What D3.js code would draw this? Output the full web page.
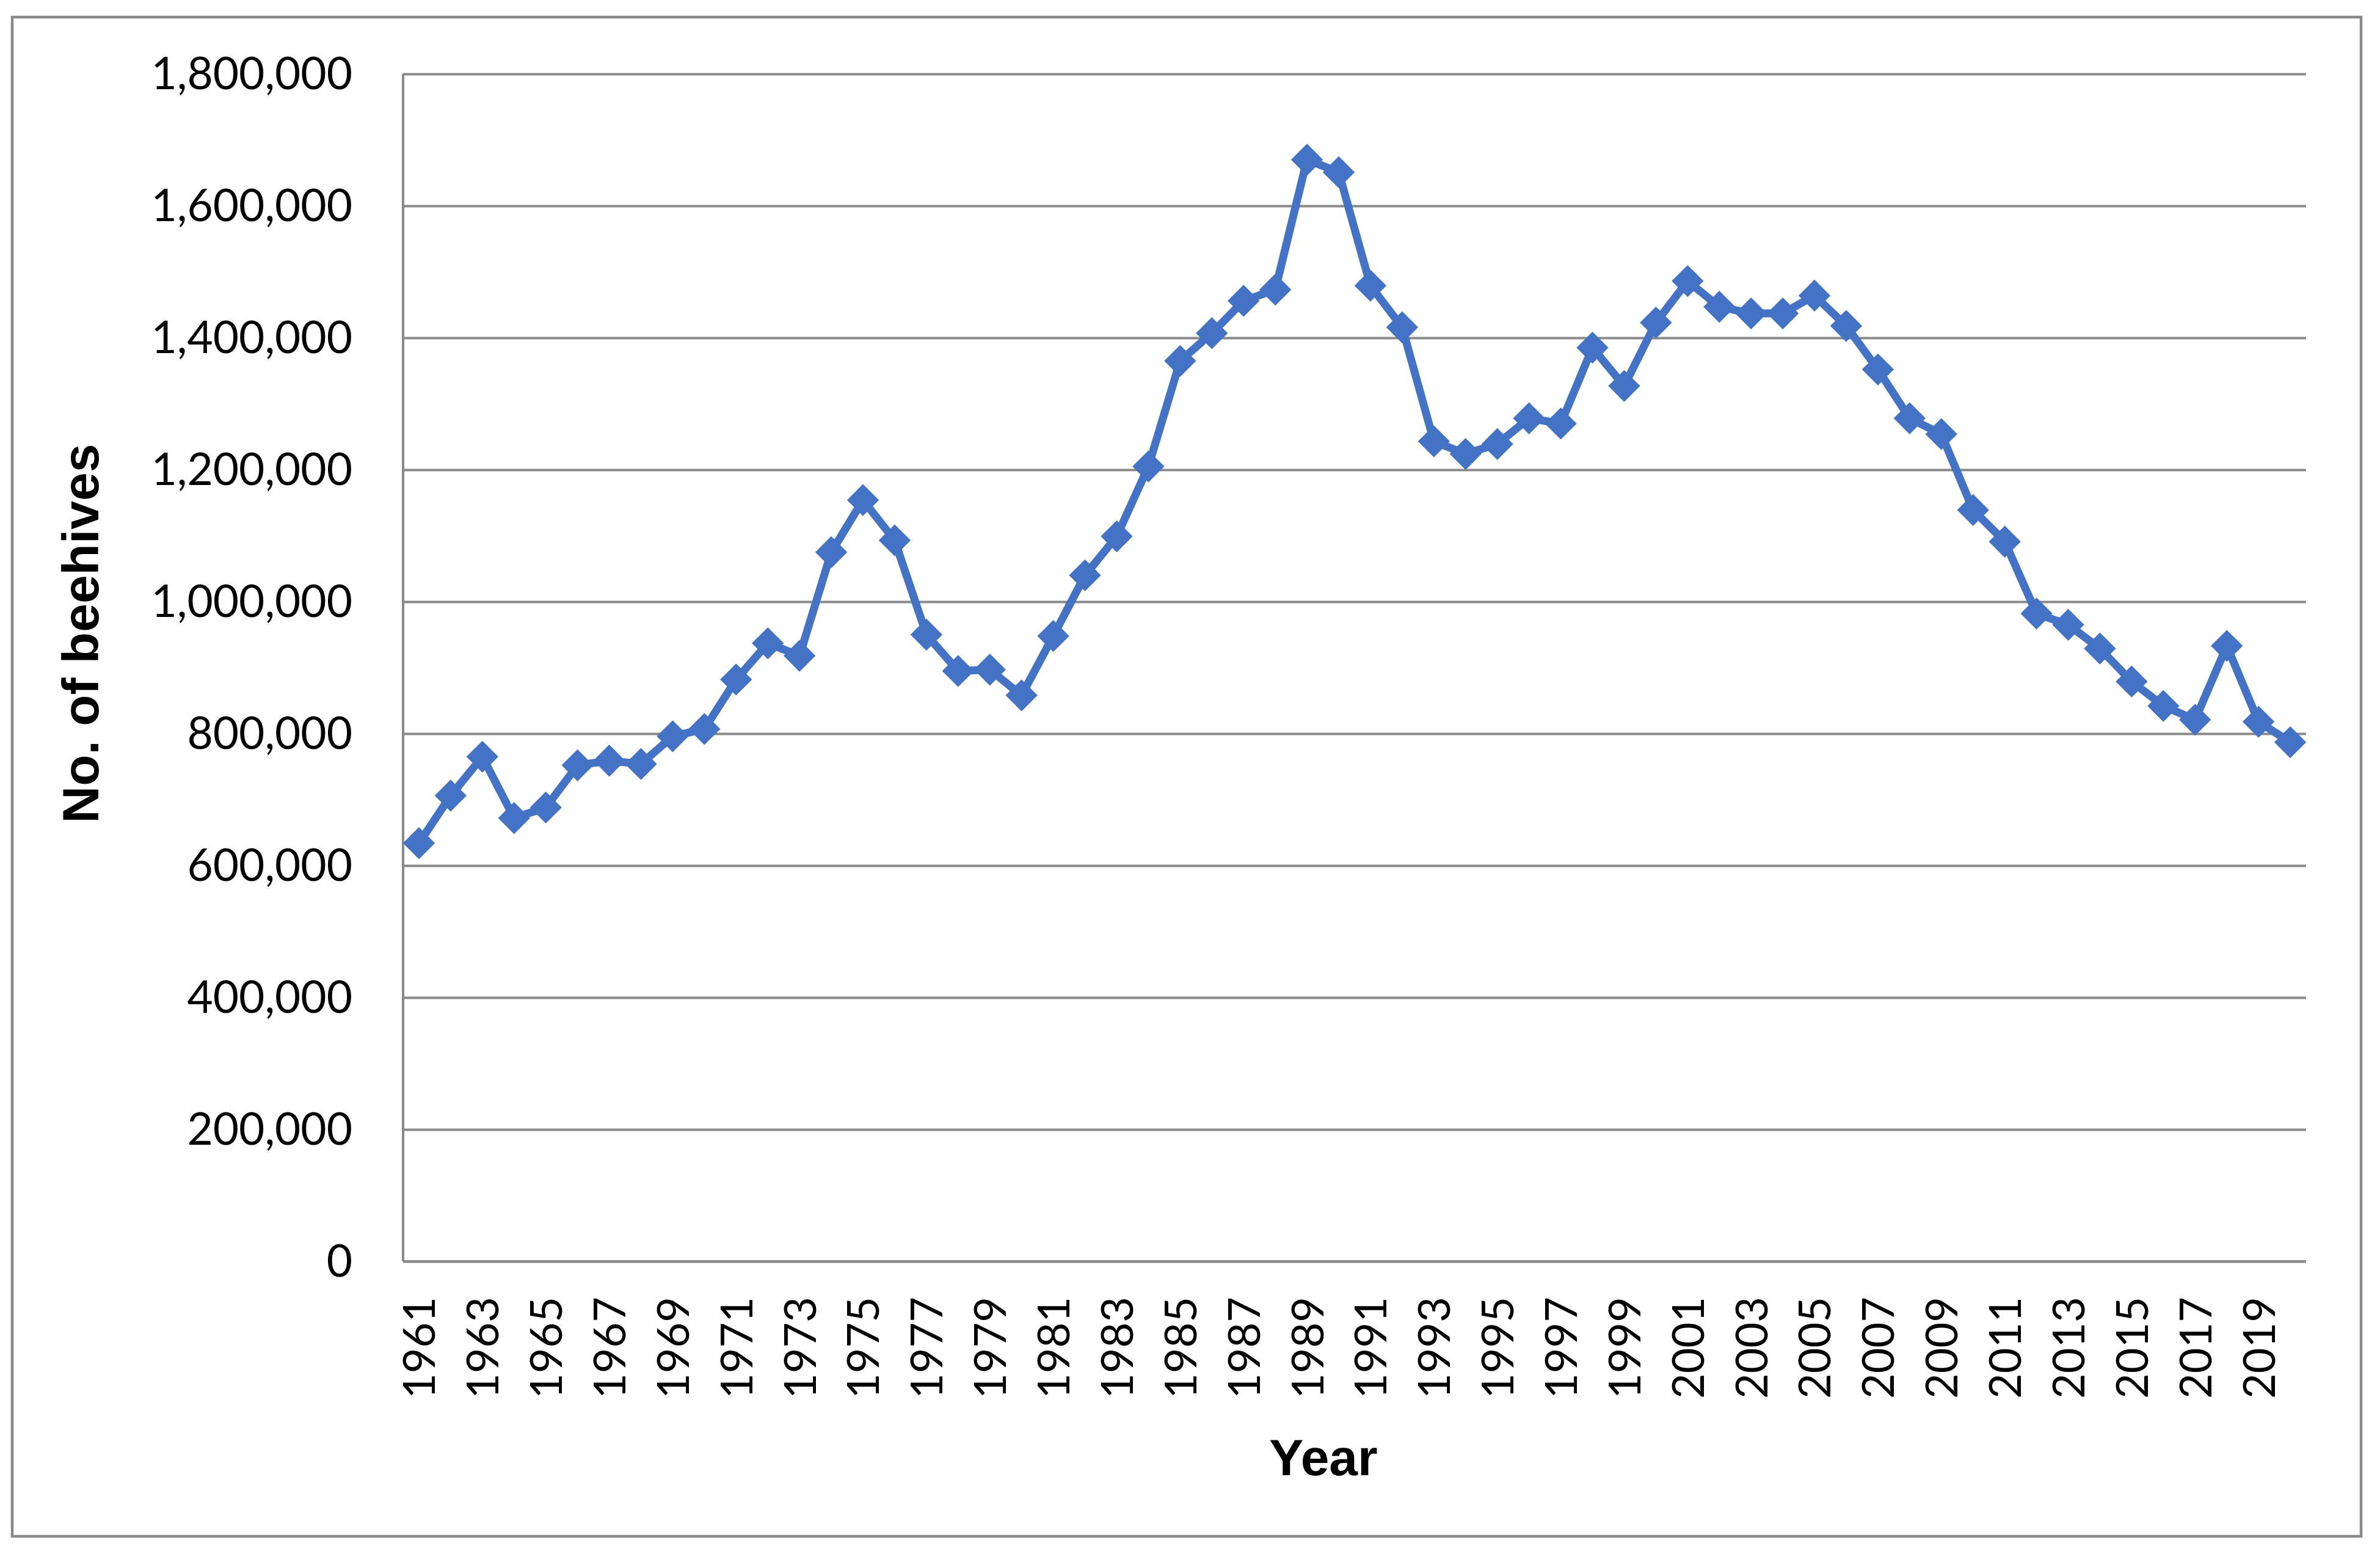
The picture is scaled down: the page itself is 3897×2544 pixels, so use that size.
<!DOCTYPE html>
<html>
<head>
<meta charset="utf-8">
<script src="https://cdn.jsdelivr.net/npm/d3@7"></script>
<style>
  html, body { margin: 0; padding: 0; background: #ffffff; }
  svg { display: block; }
</style>
</head>
<body>
<script>
// ---- Data ----
const years = [1961,1962,1963,1964,1965,1966,1967,1968,1969,1970,
  1971,1972,1973,1974,1975,1976,1977,1978,1979,1980,
  1981,1982,1983,1984,1985,1986,1987,1988,1989,1990,
  1991,1992,1993,1994,1995,1996,1997,1998,1999,2000,
  2001,2002,2003,2004,2005,2006,2007,2008,2009,2010,
  2011,2012,2013,2014,2015,2016,2017,2018,2019,2020];

const beehives = [634000,706000,765000,672000,688000,752000,759000,754000,796000,807000,
  882000,937000,918000,1075000,1154000,1093000,950000,895000,897000,858000,
  948000,1040000,1099000,1205000,1365000,1407000,1456000,1473000,1670000,1651000,
  1479000,1416000,1243000,1224000,1239000,1278000,1270000,1385000,1327000,1423000,
  1486000,1447000,1437000,1437000,1464000,1418000,1352000,1278000,1254000,1139000,
  1091000,982000,965000,929000,879000,842000,821000,933000,818000,787000];

const xTickLabels = [1961,1963,1965,1967,1969,1971,1973,1975,1977,1979,
  1981,1983,1985,1987,1989,1991,1993,1995,1997,1999,
  2001,2003,2005,2007,2009,2011,2013,2015,2017,2019];

const yTickValues = [0,200000,400000,600000,800000,1000000,1200000,1400000,1600000,1800000];

const xTitle = "Year";
const yTitle = "No. of beehives";

// ---- Layout ----
const W = 3897, H = 2544;
const plot = { left: 660, right: 3776, top: 121, bottom: 2065 };
const gridColor = "#898989";
const lineColor = "#4472C4";
const tickFont = "Lato, 'Liberation Sans', sans-serif";
const titleFont = "'Liberation Sans', Arial, sans-serif";

const svg = d3.select("body").append("svg")
  .attr("width", W).attr("height", H)
  .attr("viewBox", `0 0 ${W} ${H}`);

svg.append("rect").attr("width", W).attr("height", H).attr("fill", "#ffffff");

// outer chart border
svg.append("rect")
  .attr("x", 20).attr("y", 28)
  .attr("width", 3866 - 20).attr("height", 2515 - 28)
  .attr("fill", "none").attr("stroke", gridColor).attr("stroke-width", 4.5);

const x = d3.scalePoint().domain(years).range([plot.left, plot.right]).padding(0.5);
const y = d3.scaleLinear().domain([0, 1800000]).range([plot.bottom, plot.top]);

// Y axis with gridlines
const yAxis = d3.axisLeft(y)
  .tickValues(yTickValues)
  .tickFormat(d3.format(","))
  .tickSize(-(plot.right - plot.left))
  .tickPadding(83);

const gy = svg.append("g")
  .attr("transform", `translate(${plot.left},0)`)
  .call(yAxis);
gy.select(".domain").attr("stroke", gridColor).attr("stroke-width", 4)
  .attr("d", `M0,${plot.top}V${plot.bottom}`);
gy.selectAll(".tick line").attr("stroke", gridColor).attr("stroke-width", 4);
gy.selectAll(".tick text")
  .attr("fill", "#000").attr("font-size", 73).attr("font-family", tickFont)
  .attr("dy", "0.34em");

// X axis
const xAxis = d3.axisBottom(x)
  .tickValues(xTickLabels)
  .tickSize(0)
  .tickFormat(d => String(d));

const gx = svg.append("g")
  .attr("transform", `translate(0,${plot.bottom})`)
  .call(xAxis);
gx.select(".domain").attr("stroke", gridColor).attr("stroke-width", 4)
  .attr("d", `M${plot.left},0H${plot.right}`);
gx.selectAll(".tick text")
  .attr("fill", "#000").attr("font-size", 72).attr("font-family", tickFont)
  .attr("transform", "rotate(-90)")
  .attr("text-anchor", "end")
  .attr("x", -58).attr("y", 0).attr("dy", "0.36em");

// Line
const line = d3.line()
  .x((d, i) => x(years[i]))
  .y(d => y(d));

svg.append("path")
  .datum(beehives)
  .attr("d", line)
  .attr("fill", "none")
  .attr("stroke", lineColor)
  .attr("stroke-width", 13)
  .attr("stroke-linejoin", "round");

// Diamond markers
const marker = d3.symbol().type(d3.symbolSquare).size(35 * 35);
svg.append("g").selectAll("path")
  .data(beehives)
  .join("path")
  .attr("d", marker)
  .attr("transform", (d, i) => `translate(${x(years[i])},${y(d)}) rotate(45)`)
  .attr("fill", lineColor)
  .attr("stroke", lineColor)
  .attr("stroke-width", 2);

// Axis titles
svg.append("text")
  .attr("x", 2167).attr("y", 2415)
  .attr("text-anchor", "middle")
  .attr("font-family", titleFont).attr("font-weight", "bold").attr("font-size", 84)
  .attr("fill", "#000")
  .text(xTitle);

svg.append("text")
  .attr("transform", `translate(161,1037) rotate(-90)`)
  .attr("text-anchor", "middle")
  .attr("font-family", titleFont).attr("font-weight", "bold").attr("font-size", 84)
  .attr("fill", "#000")
  .text(yTitle);
</script>
</body>
</html>
